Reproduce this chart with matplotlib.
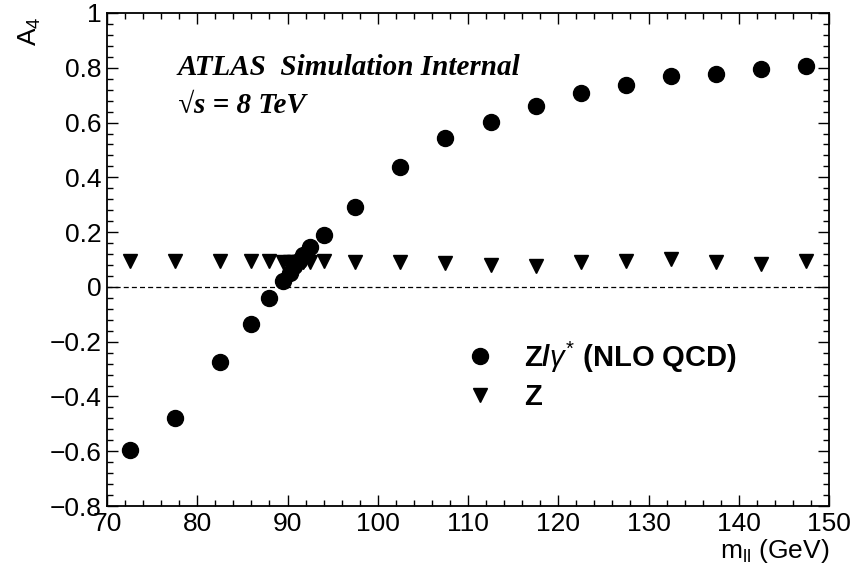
import matplotlib
matplotlib.use("Agg")
import matplotlib.pyplot as plt
from matplotlib.ticker import MultipleLocator
from matplotlib.lines import Line2D

plt.rcParams['font.family'] = ['Liberation Sans', 'DejaVu Sans']
plt.rcParams['mathtext.fontset'] = 'custom'
plt.rcParams['mathtext.rm'] = 'Liberation Sans'
plt.rcParams['mathtext.it'] = 'Liberation Sans:italic'
plt.rcParams['mathtext.bf'] = 'Liberation Sans:bold'

# Dilepton invariant mass bin centres (GeV)
mass = [72.5, 77.5, 82.5, 86.0, 88.0, 89.5, 90.25, 90.75, 91.25, 91.75,
        92.5, 94.0, 97.5, 102.5, 107.5, 112.5, 117.5, 122.5, 127.5,
        132.5, 137.5, 142.5, 147.5]

# A4 for Z/gamma* (NLO QCD)
a4_zgamma = [-0.595, -0.478, -0.274, -0.135, -0.040, 0.022, 0.050, 0.075,
             0.095, 0.115, 0.145, 0.190, 0.292, 0.438, 0.544, 0.602,
             0.660, 0.708, 0.737, 0.770, 0.777, 0.796, 0.807]

# A4 for pure Z exchange
a4_z = [0.095, 0.095, 0.095, 0.094, 0.094, 0.092, 0.092, 0.092, 0.092,
        0.092, 0.092, 0.094, 0.092, 0.090, 0.088, 0.080, 0.075, 0.090,
        0.095, 0.103, 0.090, 0.085, 0.095]

x_range = (70, 150)
y_range = (-0.8, 1.0)

fig = plt.figure(figsize=(8.56, 5.77), dpi=100)
ax = fig.add_axes([0.125, 0.123, 0.8435, 0.8545])

ax.axhline(0.0, color='black', lw=0.9, ls=(0, (4, 2.5)), zorder=1)

ax.plot(mass, a4_z, ls='none', marker='v', ms=9.5, color='black', zorder=2)
ax.plot(mass, a4_zgamma, ls='none', marker='o', ms=11.5, color='black', zorder=3)

ax.set_xlim(*x_range)
ax.set_ylim(*y_range)

ax.xaxis.set_major_locator(MultipleLocator(10))
ax.xaxis.set_minor_locator(MultipleLocator(2))
ax.yaxis.set_major_locator(MultipleLocator(0.2))
ax.yaxis.set_minor_locator(MultipleLocator(0.04))
ax.yaxis.set_major_formatter(plt.FuncFormatter(
    lambda v, p: '0' if abs(v) < 1e-9 else ('%g' % round(v, 2)).replace('-', '\u2212')))

ax.tick_params(which='both', direction='in', top=True, right=True,
               labelsize=19, width=1.0, color='black')
ax.tick_params(which='major', length=8)
ax.tick_params(which='minor', length=4)
ax.tick_params(axis='y', pad=4)
ax.tick_params(axis='x', pad=4)
for s in ax.spines.values():
    s.set_linewidth(1.3)

ax.set_xlabel(r'm$_{\mathregular{ll}}$ (GeV)', fontsize=19, loc='right', labelpad=1)
ax.set_ylabel(r'A$_{\mathregular{4}}$', fontsize=19, loc='top')
ax.yaxis.set_label_coords(-0.088, 0.993)

ax.text(0.098, 0.890, 'ATLAS  Simulation Internal', transform=ax.transAxes,
        family='Liberation Serif', weight='bold', style='italic', fontsize=21,
        va='center', ha='left')
ax.text(0.098, 0.813, '\u221as = 8 TeV', transform=ax.transAxes,
        family='Liberation Serif', weight='bold', style='italic', fontsize=21,
        va='center', ha='left')

handles = [
    Line2D([], [], ls='none', marker='o', ms=11.5, color='black'),
    Line2D([], [], ls='none', marker='v', ms=9.5, color='black'),
]
labels = [r'$\mathbf{Z/}\gamma^{*}$ $\mathbf{(NLO\ QCD)}$', r'$\mathbf{Z}$']
ax.legend(handles, labels, loc='upper left', bbox_to_anchor=(0.4965, 0.338),
          frameon=False, fontsize=21, handlelength=1.0, handletextpad=1.0,
          labelspacing=0.3, borderpad=0, borderaxespad=0)

fig.savefig('out.png', dpi=100)
